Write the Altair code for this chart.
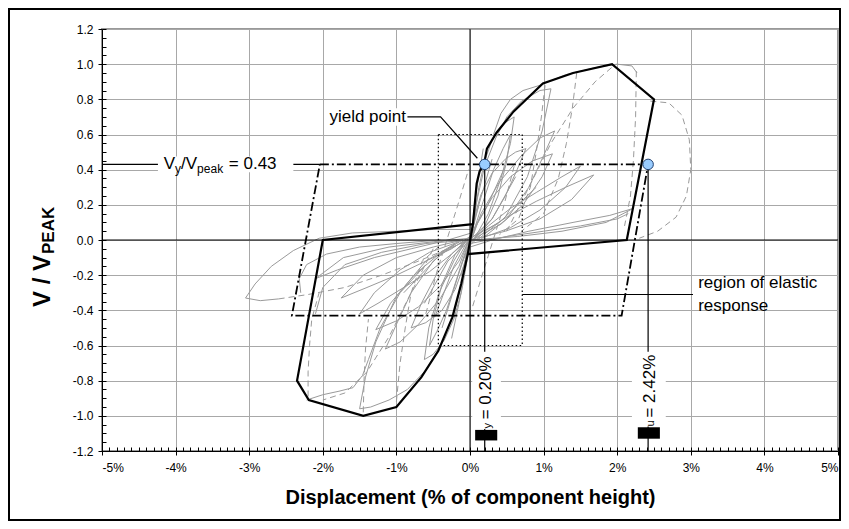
import altair as alt
import pandas as pd
import numpy as np

# ---------------- values ----------------
x_ticks = [-5, -4, -3, -2, -1, 0, 1, 2, 3, 4, 5]
y_ticks = [-1.2, -1.0, -0.8, -0.6, -0.4, -0.2, 0.0, 0.2, 0.4, 0.6, 0.8, 1.0, 1.2]
x_minor = [round(v, 1) for v in np.arange(-5, 5.001, 0.1)]
y_minor = [round(v, 2) for v in np.arange(-1.2, 1.2001, 0.05)]

# black backbone (envelope), ordered path
env_x = [-0.03, 0.04, 0.09, 0.13, 0.19, 0.23, 0.36, 0.59, 0.99, 1.40, 1.93, 2.50, 2.13,
         -0.03, -0.12, -0.24, -0.43, -0.66, -1.00, -1.45, -2.19, -2.35, -2.00, 0.04]
env_y = [-0.08, 0.09, 0.32, 0.39, 0.43, 0.52, 0.61, 0.73, 0.89, 0.95, 1.00, 0.80, 0.00,
         -0.08, -0.25, -0.44, -0.63, -0.78, -0.95, -1.00, -0.91, -0.80, 0.00, 0.09]

# idealised bilinear (dash-dot) parallelogram
bil_x = [-2.04, 2.42, 2.06, -2.42, -2.04]
bil_y = [0.43, 0.43, -0.43, -0.43, 0.43]

# region of elastic response (dotted box)
elastic_x = [-0.43, 0.71]
elastic_y = [-0.60, 0.60]

# yield / ultimate points
pts_x = [0.20, 2.42]
pts_y = [0.43, 0.43]

# gray hysteresis loops (solid)
fan_p1 = [(-0.05, -0.12), (0.0, 0.0), (0.06, 0.13), (0.15, 0.26), (0.3, 0.38), (0.48, 0.46), (0.62, 0.5), (0.76, 0.52), (0.64, 0.4), (0.48, 0.25), (0.3, 0.12), (0.12, 0.03), (0.0, -0.02)]
fan_p2 = [(-0.08, -0.16), (0.0, -0.02), (0.1, 0.1), (0.3, 0.24), (0.55, 0.36), (0.85, 0.45), (1.12, 0.49), (0.98, 0.36), (0.72, 0.2), (0.42, 0.09), (0.15, 0.03), (0.0, -0.01)]
fan_p3 = [(-0.1, -0.12), (0.0, -0.03), (0.2, 0.05), (0.5, 0.13), (0.9, 0.22), (1.3, 0.3), (1.68, 0.37), (1.38, 0.23), (0.95, 0.12), (0.48, 0.05), (0.1, 0.01)]
fan_p4 = [(0.0, -0.04), (0.3, 0.0), (0.8, 0.05), (1.4, 0.1), (1.9, 0.14), (2.22, 0.18), (1.85, 0.1), (1.25, 0.05), (0.65, 0.02), (0.0, 0.0)]
fan_p5 = [(-0.12, -0.2), (-0.02, -0.05), (0.05, 0.1), (0.12, 0.3), (0.2, 0.45), (0.3, 0.57), (0.45, 0.66), (0.6, 0.7), (0.55, 0.55), (0.42, 0.35), (0.25, 0.15), (0.05, 0.0)]
fan_p6 = [(0.0, -0.02), (0.08, 0.2), (0.2, 0.42), (0.35, 0.58), (0.5, 0.7), (0.7, 0.79), (0.95, 0.85), (1.1, 0.86), (0.98, 0.62), (0.78, 0.36), (0.48, 0.13), (0.1, 0.0)]
fan_p7 = [(-0.05, -0.08), (0.15, 0.15), (0.4, 0.33), (0.7, 0.48), (0.95, 0.58), (1.15, 0.62), (1.0, 0.48), (0.8, 0.3), (0.5, 0.12), (0.2, 0.02)]
fan_p8 = [(-0.06, -0.1), (0.05, 0.05), (0.18, 0.22), (0.32, 0.4), (0.45, 0.52), (0.55, 0.6), (0.5, 0.45), (0.38, 0.25), (0.2, 0.08), (0.02, -0.01)]
fan_p9 = [(0.0, -0.01), (0.25, 0.08), (0.55, 0.18), (0.9, 0.27), (1.25, 0.36), (1.5, 0.42), (1.3, 0.3), (0.95, 0.17), (0.55, 0.07), (0.15, 0.01)]
outer_p = [(0.32, 0.6), (0.42, 0.72), (0.55, 0.8), (0.72, 0.85), (0.95, 0.88), (1.3, 0.94), (1.7, 0.98), (2.0, 1.0), (2.2, 0.99), (2.27, 0.95)]
right_low = [(0.0, -0.02), (0.5, 0.02), (1.0, 0.05), (1.5, 0.08), (2.0, 0.12), (2.15, 0.15)]
fan_n1 = [(0.05, 0.12), (0.0, 0.0), (-0.08, -0.14), (-0.2, -0.28), (-0.38, -0.4), (-0.6, -0.47), (-0.8, -0.5), (-0.66, -0.36), (-0.46, -0.2), (-0.25, -0.08), (-0.05, 0.0)]
fan_n2 = [(0.08, 0.15), (0.0, 0.01), (-0.15, -0.12), (-0.4, -0.26), (-0.7, -0.38), (-1.0, -0.46), (-1.28, -0.51), (-1.08, -0.36), (-0.76, -0.2), (-0.42, -0.08), (-0.1, 0.0)]
fan_n3 = [(0.1, 0.1), (0.0, 0.02), (-0.25, -0.05), (-0.6, -0.12), (-1.0, -0.2), (-1.4, -0.27), (-1.75, -0.33), (-1.45, -0.2), (-1.0, -0.1), (-0.5, -0.04), (-0.1, 0.0)]
fan_n4 = [(0.02, 0.04), (-0.3, 0.0), (-0.8, -0.05), (-1.3, -0.1), (-1.8, -0.17), (-2.1, -0.22), (-1.72, -0.1), (-1.1, -0.04), (-0.5, -0.01), (0.0, 0.01)]
fan_n5 = [(0.12, 0.2), (0.02, 0.05), (-0.05, -0.1), (-0.12, -0.3), (-0.22, -0.45), (-0.35, -0.57), (-0.5, -0.65), (-0.62, -0.68), (-0.56, -0.5), (-0.42, -0.3), (-0.22, -0.12), (-0.05, 0.0)]
fan_n6 = [(0.0, 0.02), (-0.08, -0.2), (-0.22, -0.42), (-0.4, -0.6), (-0.6, -0.74), (-0.85, -0.85), (-1.1, -0.91), (-1.35, -0.95), (-1.5, -0.96), (-1.42, -0.78), (-1.28, -0.58), (-1.0, -0.32), (-0.6, -0.12), (-0.2, -0.02)]
fan_n7 = [(0.05, 0.08), (-0.15, -0.15), (-0.4, -0.33), (-0.7, -0.48), (-0.95, -0.58), (-1.15, -0.62), (-1.0, -0.48), (-0.8, -0.3), (-0.5, -0.12), (-0.2, -0.02)]
fan_n8 = [(0.06, 0.1), (-0.05, -0.05), (-0.18, -0.22), (-0.32, -0.4), (-0.45, -0.52), (-0.55, -0.6), (-0.5, -0.45), (-0.38, -0.25), (-0.2, -0.08), (-0.02, 0.01)]
fan_n9 = [(0.0, 0.01), (-0.25, -0.08), (-0.55, -0.18), (-0.9, -0.27), (-1.25, -0.36), (-1.5, -0.42), (-1.3, -0.3), (-0.95, -0.17), (-0.55, -0.07), (-0.15, -0.01)]
outer_n = [(-2.22, -0.91), (-2.0, -0.88), (-1.78, -0.86), (-1.59, -0.84), (-1.46, -0.77), (-1.38, -0.68), (-1.22, -0.5), (-0.95, -0.3), (-0.6, -0.14)]
left_loop = [(0.0, 0.06), (-0.5, 0.06), (-1.0, 0.05), (-1.6, 0.04), (-2.05, 0.01), (-2.4, -0.06), (-2.7, -0.15), (-2.92, -0.25), (-3.05, -0.33), (-2.85, -0.345), (-2.6, -0.335)]
left_hook1 = [(-2.3, -0.3), (-2.32, -0.22), (-2.22, -0.14), (-1.95, -0.08), (-1.5, -0.04), (-1.0, -0.02), (-0.4, 0.0)]
left_hook2 = [(-2.1, -0.42), (-2.0, -0.27), (-1.7, -0.14), (-1.2, -0.07), (-0.6, -0.02), (0.0, 0.0)]
steep_1 = [(-0.38, -0.5), (-0.16, -0.2), (0.0, 0.0), (0.12, 0.2), (0.3, 0.46)]
steep_2 = [(-0.48, -0.44), (-0.22, -0.15), (0.0, 0.02), (0.22, 0.18), (0.48, 0.42)]
steep_3 = [(-0.25, -0.56), (-0.1, -0.26), (0.0, -0.02), (0.08, 0.26), (0.18, 0.52)]
steep_4 = [(-0.62, -0.36), (-0.3, -0.12), (0.0, 0.0), (0.3, 0.12), (0.62, 0.36)]
steep_5 = [(-0.9, -0.3), (-0.4, -0.08), (0.0, 0.01), (0.4, 0.1), (0.9, 0.3)]

# gray hysteresis loops (dashed)
dash_p1 = [(1.02, 0.88), (0.97, 0.7), (0.9, 0.5), (0.82, 0.3), (0.66, 0.12), (0.4, 0.03)]
dash_p2 = [(1.45, 0.95), (1.39, 0.75), (1.31, 0.55), (1.2, 0.35), (1.0, 0.15), (0.7, 0.05)]
dash_p3 = [(0.5, 0.05), (0.8, 0.3), (1.1, 0.55), (1.4, 0.75), (1.7, 0.9), (1.95, 0.99)]
dash_p4 = [(2.26, 0.96), (2.25, 0.7), (2.22, 0.45), (2.18, 0.25), (2.1, 0.08)]
dash_right = [(2.45, 0.79), (2.7, 0.78), (2.88, 0.71), (2.98, 0.57), (3.0, 0.4), (2.94, 0.25), (2.8, 0.13), (2.55, 0.05), (2.3, 0.01)]
dash_mid_p = [(0.6, 0.42), (0.45, 0.18), (0.3, -0.02), (0.15, -0.22), (0.02, -0.4)]
dash_n1 = [(-1.0, -0.92), (-0.95, -0.7), (-0.88, -0.5), (-0.8, -0.3), (-0.65, -0.12), (-0.4, -0.03)]
dash_n2 = [(-1.45, -0.98), (-1.44, -0.8), (-1.42, -0.62), (-1.38, -0.45)]
dash_n3 = [(-0.5, -0.05), (-0.8, -0.3), (-1.1, -0.55), (-1.4, -0.75), (-1.7, -0.87), (-2.0, -0.91)]
dash_n4 = [(-2.2, -0.89), (-2.2, -0.75), (-2.18, -0.6), (-2.15, -0.45), (-2.05, -0.3)]
dash_left = [(-2.6, -0.335), (-2.2, -0.31), (-1.7, -0.27), (-1.2, -0.2), (-0.7, -0.12), (-0.3, -0.05), (0.0, 0.0)]
dash_mid_n = [(-0.6, -0.42), (-0.45, -0.18), (-0.3, 0.02), (-0.15, 0.22), (-0.02, 0.4)]

solid_curves = dict(fan_p1=fan_p1, fan_p2=fan_p2, fan_p3=fan_p3, fan_p4=fan_p4, fan_p5=fan_p5,
                    fan_p6=fan_p6, fan_p7=fan_p7, fan_p8=fan_p8, fan_p9=fan_p9,
                    outer_p=outer_p, right_low=right_low,
                    fan_n1=fan_n1, fan_n2=fan_n2, fan_n3=fan_n3, fan_n4=fan_n4, fan_n5=fan_n5,
                    fan_n6=fan_n6, fan_n7=fan_n7, fan_n8=fan_n8, fan_n9=fan_n9,
                    outer_n=outer_n, left_loop=left_loop,
                    left_hook1=left_hook1, left_hook2=left_hook2,
                    steep_1=steep_1, steep_2=steep_2, steep_3=steep_3, steep_4=steep_4,
                    steep_5=steep_5)
dashed_curves = dict(dash_p1=dash_p1, dash_p2=dash_p2, dash_p3=dash_p3, dash_p4=dash_p4,
                     dash_right=dash_right, dash_mid_p=dash_mid_p, dash_n1=dash_n1,
                     dash_n2=dash_n2, dash_n3=dash_n3, dash_n4=dash_n4, dash_left=dash_left,
                     dash_mid_n=dash_mid_n)

# annotation texts
x_title = "Displacement (% of component height)"
vy_value = "0.43"
dy_value = "0.20%"
du_value = "2.42%"

# ---------------- build tables ----------------
def curves_df(curves):
    rows = []
    for name, pts in curves.items():
        for i, (x, y) in enumerate(pts):
            rows.append({"curve": name, "i": i, "x": x, "y": y})
    return pd.DataFrame(rows)

solid_df = curves_df(solid_curves)
dashed_df = curves_df(dashed_curves)
env_df = pd.DataFrame({"x": env_x, "y": env_y, "i": range(len(env_x))})
bil_df = pd.DataFrame({"x": bil_x, "y": bil_y, "i": range(len(bil_x))})
elastic_df = pd.DataFrame({"x": [elastic_x[0]], "x2": [elastic_x[1]],
                           "y": [elastic_y[0]], "y2": [elastic_y[1]]})
pts_df = pd.DataFrame({"x": pts_x, "y": pts_y})

W, H = 736, 422
PXX = W / 10.0      # px per % displacement
PXY = H / 2.4       # px per unit V/Vpeak
FONT = "Liberation Sans"

xs = alt.Scale(domain=[-5, 5], nice=False, zero=False)
ys = alt.Scale(domain=[-1.2, 1.2], nice=False, zero=False)


def X(f="x"):
    return alt.X(f"{f}:Q", scale=xs, axis=None)


def Y(f="y"):
    return alt.Y(f"{f}:Q", scale=ys, axis=None)


# --- axes layer (main ticks, labels, grid) ---
axes_layer = alt.Chart(pd.DataFrame({"x": [0.0], "y": [0.0]})).mark_point(opacity=0).encode(
    x=alt.X("x:Q", scale=xs, axis=alt.Axis(
        values=x_ticks, labelExpr="datum.value + '%'", grid=True, tickSize=4,
        labelPadding=7, orient="bottom", title=x_title, titleFontSize=20,
        titleFontWeight="bold", titlePadding=14)),
    y=alt.Y("y:Q", scale=ys, axis=alt.Axis(
        values=y_ticks, labelExpr="replace(format(datum.value, '.1f'), '\u2212', '-')",
        grid=True, tickSize=4, labelPadding=5, orient="left", title="")),
)

# --- minor ticks (inward) ---
minor_layer = alt.Chart(pd.DataFrame({"x": [0.0], "y": [0.0]})).mark_point(opacity=0).encode(
    x=alt.X("x:Q", scale=xs, axis=alt.Axis(
        values=x_minor, labels=False, grid=False, domain=False, tickSize=4,
        offset=-4, orient="bottom", title="")),
    y=alt.Y("y:Q", scale=ys, axis=alt.Axis(
        values=y_minor, labels=False, grid=False, domain=False, tickSize=4,
        offset=-4, orient="left", title="")),
)

# zero lines
zero_h = alt.Chart(pd.DataFrame({"x": [-5], "x2": [5], "y": [0]})).mark_rule(
    color="black", strokeWidth=1).encode(x=X(), x2="x2:Q", y=Y())
zero_v = alt.Chart(pd.DataFrame({"x": [0], "y": [-1.2], "y2": [1.2]})).mark_rule(
    color="black", strokeWidth=1).encode(x=X(), y=Y(), y2="y2:Q")

gray_solid = alt.Chart(solid_df).mark_line(color="#9a9a9a", strokeWidth=1).encode(
    x=X(), y=Y(), detail="curve:N", order="i:Q")
gray_dashed = alt.Chart(dashed_df).mark_line(color="#9a9a9a", strokeWidth=1,
                                              strokeDash=[6, 4]).encode(
    x=X(), y=Y(), detail="curve:N", order="i:Q")

envelope = alt.Chart(env_df).mark_line(color="black", strokeWidth=2.2,
                                        strokeJoin="miter").encode(
    x=X(), y=Y(), order="i:Q")

elastic_box = alt.Chart(elastic_df).mark_rect(filled=False, stroke="black", strokeWidth=1.2,
                                               strokeDash=[1.5, 2.5]).encode(
    x=X(), x2="x2:Q", y=Y(), y2="y2:Q")

bilinear = alt.Chart(bil_df).mark_line(color="black", strokeWidth=1.8,
                                        strokeDash=[9, 3, 2, 3]).encode(
    x=X(), y=Y(), order="i:Q")

# annotation leader lines (solid black, thin)
leaders = pd.DataFrame([
    {"g": "vy", "i": 0, "x": -5.0, "y": 0.43}, {"g": "vy", "i": 1, "x": -2.04, "y": 0.43},
    {"g": "yp", "i": 0, "x": -0.85, "y": 0.70}, {"g": "yp", "i": 1, "x": -0.40, "y": 0.70},
    {"g": "yp", "i": 2, "x": 0.10, "y": 0.465},
    {"g": "el", "i": 0, "x": 0.71, "y": -0.31}, {"g": "el", "i": 1, "x": 3.03, "y": -0.31},
    {"g": "dy", "i": 0, "x": 0.20, "y": 0.43}, {"g": "dy", "i": 1, "x": 0.20, "y": -1.20},
    {"g": "du", "i": 0, "x": 2.42, "y": 0.43}, {"g": "du", "i": 1, "x": 2.42, "y": -1.20},
])
leader_layer = alt.Chart(leaders).mark_line(color="black", strokeWidth=1.2).encode(
    x=X(), y=Y(), detail="g:N", order="i:Q")

# white label backgrounds
white_df = pd.DataFrame({
    "x": [-4.24, -1.95, 0.03, 2.20], "x2": [-2.40, -0.86, 0.42, 2.66],
    "y": [0.385, 0.65, -1.075, -1.06], "y2": [0.475, 0.75, -0.635, -0.635]})
white_layer = alt.Chart(white_df).mark_rect(fill="white").encode(
    x=X(), x2="x2:Q", y=Y(), y2="y2:Q")

# black boxes (the symbol glyph of the delta labels)
black_df = pd.DataFrame({"x": [0.07, 2.28], "x2": [0.37, 2.58],
                         "y": [-1.14, -1.13], "y2": [-1.08, -1.065]})
black_layer = alt.Chart(black_df).mark_rect(fill="black").encode(
    x=X(), x2="x2:Q", y=Y(), y2="y2:Q")

# Vy/Vpeak label pieces (horizontal)
ax0, ay0 = -4.16, 0.43
vy_pieces = pd.DataFrame([
    {"t": "V", "x": ax0, "y": ay0, "s": 17},
    {"t": "y", "x": ax0 + 11.3 / PXX, "y": ay0 - 5 / PXY, "s": 12},
    {"t": "/V", "x": ax0 + 17.3 / PXX, "y": ay0, "s": 17},
    {"t": "peak", "x": ax0 + 33.3 / PXX, "y": ay0 - 5 / PXY, "s": 12},
    {"t": "= " + vy_value, "x": ax0 + 65.0 / PXX, "y": ay0, "s": 17},
])
vy_text = alt.Chart(vy_pieces).mark_text(align="left", baseline="middle", font=FONT,
                                          color="black").encode(
    x=X(), y=Y(), text="t:N", size=alt.Size("s:Q", scale=None, legend=None))

plain_text = pd.DataFrame([
    {"t": "yield point", "x": -0.87, "y": 0.70, "s": 17},
])
yp_text = alt.Chart(plain_text).mark_text(align="right", baseline="middle", font=FONT,
                                           color="black").encode(
    x=X(), y=Y(), text="t:N", size=alt.Size("s:Q", scale=None, legend=None))

el_text_df = pd.DataFrame([
    {"t": "region of elastic", "x": 3.10, "y": -0.246},
    {"t": "response", "x": 3.10, "y": -0.375},
])
el_text = alt.Chart(el_text_df).mark_text(align="left", baseline="middle", font=FONT,
                                           fontSize=17, color="black").encode(
    x=X(), y=Y(), text="t:N")

# rotated delta labels
rot_df = pd.DataFrame([
    {"t": " = " + dy_value, "x": 0.22, "y": -1.02, "s": 17},
    {"t": "y", "x": 0.245, "y": -1.072, "s": 11},
    {"t": " = " + du_value, "x": 2.44, "y": -1.01, "s": 17},
    {"t": "u", "x": 2.465, "y": -1.06, "s": 11},
])
rot_text = alt.Chart(rot_df).mark_text(align="left", baseline="middle", angle=270,
                                        font=FONT, color="black").encode(
    x=X(), y=Y(), text="t:N", size=alt.Size("s:Q", scale=None, legend=None))

points = alt.Chart(pts_df).mark_point(filled=True, size=110, fill="#99ccff",
                                       stroke="#1f3f6f", strokeWidth=1, opacity=1,
                                       shape="circle").encode(x=X(), y=Y())

# y-axis title "V / V_PEAK" (rotated pieces, placed in pixels)
ytitle_main = alt.Chart(pd.DataFrame({"t": ["V / V"]})).mark_text(
    angle=270, align="left", baseline="alphabetic", font=FONT, fontSize=24,
    fontWeight="bold", color="black").encode(
    x=alt.value(-52), y=alt.value(278), text="t:N")
ytitle_sub = alt.Chart(pd.DataFrame({"t": ["PEAK"]})).mark_text(
    angle=270, align="left", baseline="alphabetic", font=FONT, fontSize=17,
    fontWeight="bold", color="black").encode(
    x=alt.value(-48), y=alt.value(225), text="t:N")

# outer chart frame
frame = alt.Chart(pd.DataFrame({"a": [0]})).mark_rect(
    filled=False, stroke="black", strokeWidth=2).encode(
    x=alt.value(-93), x2=alt.value(W + 2), y=alt.value(-20), y2=alt.value(H + 69))

chart = alt.layer(
    axes_layer, minor_layer, gray_solid, gray_dashed, zero_h, zero_v,
    elastic_box, bilinear, envelope, leader_layer, white_layer, black_layer,
    vy_text, yp_text, el_text, rot_text, points, ytitle_main, ytitle_sub, frame,
).resolve_axis(x="independent", y="independent").properties(
    width=W, height=H,
    padding={"left": 94, "top": 21, "right": 3, "bottom": 70},
    autosize=alt.AutoSizeParams(type="none"),
    background="white",
).configure_view(
    stroke="#999999", strokeWidth=2
).configure_axis(
    domainColor="black", tickColor="black", labelColor="black", labelFont=FONT,
    labelFontSize=12, gridColor="#a8a8a8", gridWidth=1, titleFont=FONT,
    titleColor="black", domainWidth=1, tickWidth=1,
)

chart.save("out.html", embed_options={"renderer": "svg", "actions": False})
